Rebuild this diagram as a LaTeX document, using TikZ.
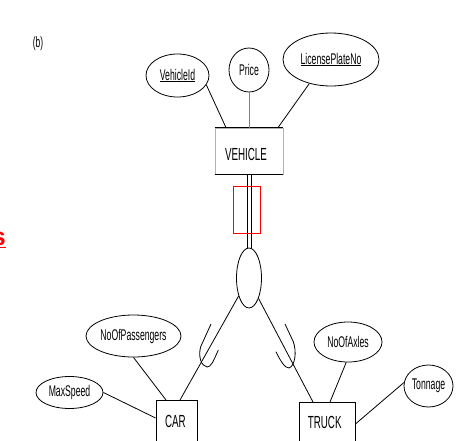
\documentclass[tikz,border=0pt]{standalone}
\usepackage{fontspec}
\setmainfont{Liberation Sans}[FakeStretch=0.56]
\newfontfamily\redfont{Liberation Sans}
\usetikzlibrary{shapes.geometric,calc}
\begin{document}
\begin{tikzpicture}[x=1pt,y=-1pt,
  attr/.style={draw, ellipse, inner sep=0pt, line width=0.8pt, font=\fontsize{15.5}{17}\selectfont},
  ent/.style={draw, rectangle, inner sep=0pt, line width=0.8pt},
  enttext/.style={font=\fontsize{17.5}{19}\selectfont, inner sep=0pt},
  conn/.style={line width=0.8pt},
  ]
\useasboundingbox[fill=white] (0,0) rectangle (461,440);

% label
\node[font=\fontsize{15}{16}\selectfont, inner sep=0pt] (lab) at (38,44) {(b)};

% red fragment at left edge
\node[font=\redfont\bfseries\fontsize{25}{28}\selectfont, text=red, inner sep=0pt, anchor=base east] (reds) at (6,245) {s};
\draw[red, line width=1.8pt] ([yshift=-2.5pt]reds.base west) -- ([yshift=-2.5pt]reds.base east);

% top attributes
\node[attr, minimum width=63pt, minimum height=43pt] (vid) at (177.5,75.5) {\underline{VehicleId}};
\node[attr, minimum width=40pt, minimum height=44pt] (price) at (249,70) {Price};
\node[attr, minimum width=96pt, minimum height=53pt] (lpn) at (331,59.5) {\underline{LicensePlateNo}};

% VEHICLE
\node[ent, draw=gray!60, minimum width=68pt, minimum height=46pt] (veh) at (249,151) {};
\draw[line width=1.6pt] (veh.north west) -- (veh.north east);
\draw[line width=1.6pt] (veh.south west) -- (veh.south east);
\node[enttext] (vehtext) at (246,154.7) {VEHICLE};

\draw[conn] (vid.-18) -- ([xshift=-23pt]veh.north);
\draw[conn, draw=gray] (price.south) -- (veh.north);
\draw[conn] (lpn.-132) -- ([xshift=29pt]veh.north);

% specialization circle
\node[draw, ellipse, minimum width=25pt, minimum height=60pt, inner sep=0pt, line width=0.8pt] (spec) at (249,278) {};
\draw[conn] ([xshift=-2pt]veh.south) -- ([xshift=-2pt]spec.north);
\draw[conn] ([xshift=2pt]veh.south) -- ([xshift=2pt]spec.north);
\draw[red, line width=0.9pt] (233,186) rectangle (260,233);

% subclasses
\node[ent, minimum width=41pt, minimum height=60pt, anchor=north] (car) at (176.5,400) {};
\node[enttext] (cartext) at (175.4,421.7) {CAR};
\node[ent, minimum width=56pt, minimum height=60pt, anchor=north] (truck) at (327,402) {};
\node[enttext] (trucktext) at (324.7,422) {TRUCK};

\draw[conn] (spec.-120) -- ([xshift=3.5pt]car.north);
\draw[conn] (spec.-65) -- ([xshift=-14pt]truck.north);

% subset symbols
\draw[conn] (211,324) -- (200.7,346.7) .. controls (198,356) and (201,366) .. (207,367) .. controls (211,367) and (213,362) .. (218.3,350);
\draw[conn] (285,324) -- (293.3,341.7) .. controls (297,352) and (295,366) .. (289,368) .. controls (285,368) and (281,362) .. (276,351.7);

% bottom attributes
\node[attr, minimum width=95pt, minimum height=42pt] (npass) at (133.5,336) {NoOfPassengers};
\node[attr, minimum width=67pt, minimum height=32pt] (maxsp) at (69.5,392.5) {MaxSpeed};
\node[attr, minimum width=68pt, minimum height=40pt] (nax) at (348,342) {NoOfAxles};
\node[attr, minimum width=49pt, minimum height=42pt] (ton) at (428.5,386) {Tonnage};

\draw[conn] (npass.south) -- ([xshift=-10.5pt]car.north);
\draw[conn] (maxsp.east) -- ([yshift=-18pt]car.north west);
\draw[conn] (nax.-95) -- ([xshift=3pt]truck.north);
\draw[conn] (ton.172) -- ([yshift=-22pt]truck.north east);
\end{tikzpicture}
\end{document}
